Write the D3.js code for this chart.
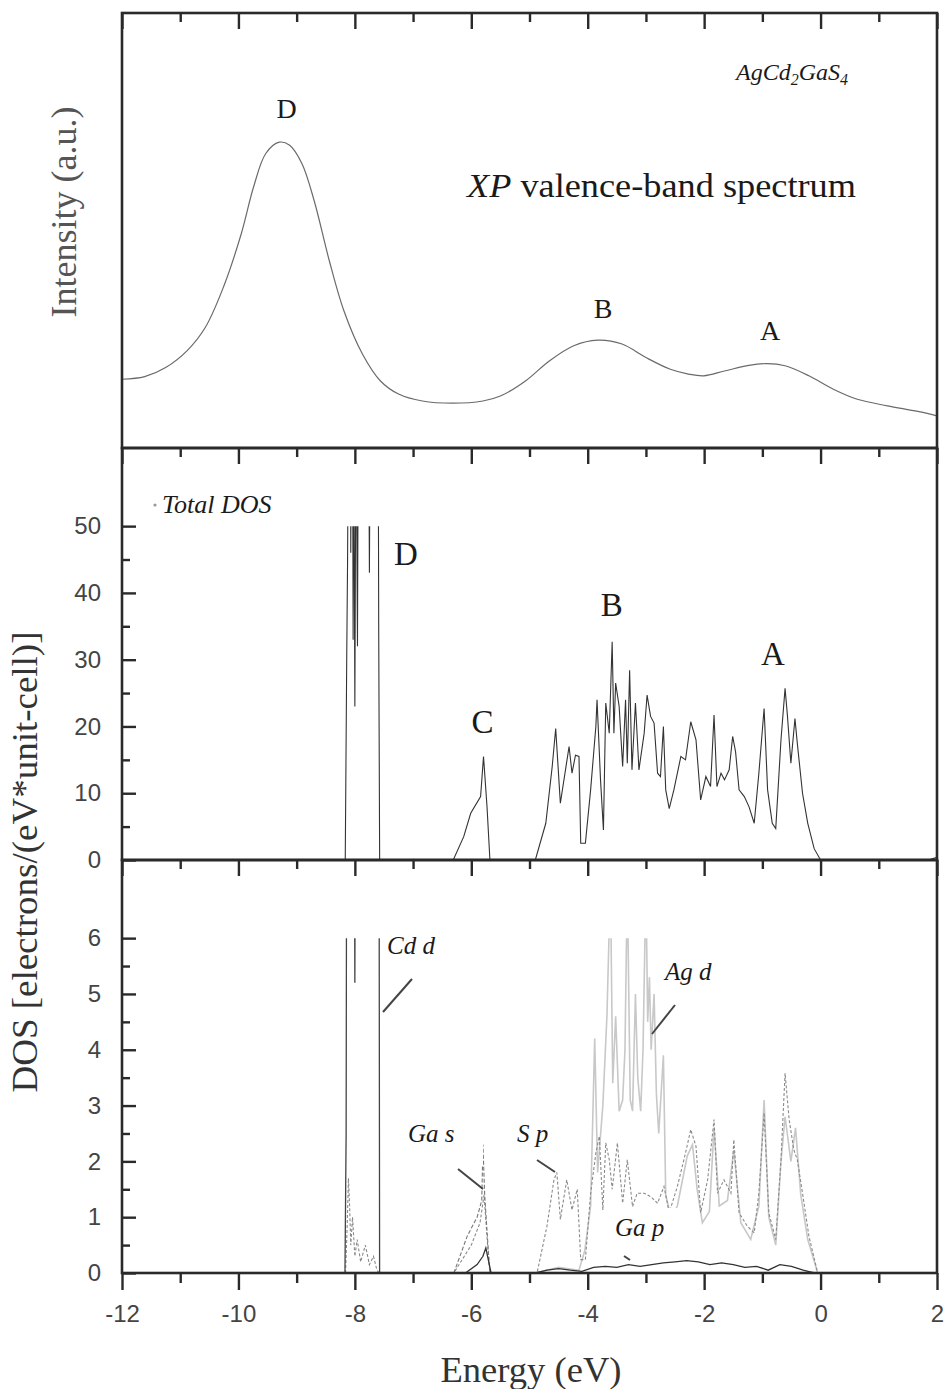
<!DOCTYPE html>
<html>
<head>
<meta charset="utf-8">
<script src="https://cdn.jsdelivr.net/npm/d3@7"></script>
<style>
  body { margin: 0; background: #fff; }
</style>
</head>
<body>
<div id="chart"></div>
<script>
const width = 944;
const height = 1389;
const left = 122, right = 937;

// panel bounds (top, bottom) in px
const panels = {xps: [13, 448], total: [448, 860], partial: [860, 1273]};

const energyTicks = d3.range(-12, 3, 2);
const energyMinor = d3.range(-11, 2, 2);
const totalTicks = [0, 10, 20, 30, 40, 50];
const totalMinor = [5, 15, 25, 35, 45];
const partialTicks = [0, 1, 2, 3, 4, 5, 6];
const partialMinor = [0.5, 1.5, 2.5, 3.5, 4.5, 5.5];

// XP valence-band spectrum (energy eV, intensity a.u.)
const xps = [[-12,15.8],[-11.61,16.4],[-11.25,18.5],[-10.88,22.4],[-10.57,27.7],[-10.26,36.9],
  [-9.95,49.3],[-9.74,60],[-9.53,67.7],[-9.3,70.3],[-9.12,69.6],[-8.91,65.4],[-8.7,56.9],
  [-8.44,43.1],[-8.19,31.6],[-7.87,21.6],[-7.56,15.4],[-7.25,12.4],[-6.84,10.8],[-6.32,10.3],
  [-5.8,10.8],[-5.49,12],[-5.07,15.4],[-4.66,20],[-4.24,23.5],[-3.83,24.8],[-3.41,23.9],
  [-3.0,20.8],[-2.58,18.1],[-2.27,17],[-2.01,16.6],[-1.65,17.7],[-1.23,19],[-0.92,19.4],
  [-0.61,18.9],[-0.2,16.6],[0.22,13.5],[0.63,11.2],[1.15,9.7],[1.67,8.4],[2,7.4]];

// total DOS (values above 50 are cut off by the frame of the original)
const totalDos = [[-8.165,0],[-8.14,30],[-8.125,45],[-8.11,70],[-8.075,70],[-8.07,46],[-8.06,70],
  [-8.04,70],[-8.03,33],[-8.02,70],[-8.0,23],[-7.98,70],[-7.955,32],[-7.94,70],[-7.765,70],
  [-7.75,43],[-7.735,70],[-7.6,70],[-7.59,34],[-7.574,0],
  [-6.31,0],[-6.13,3.5],[-6.01,7],[-5.84,9.5],[-5.79,15.5],[-5.73,8],[-5.68,0],
  [-4.9,0],[-4.72,5.5],[-4.61,14],[-4.55,19.7],[-4.47,8.5],[-4.32,17],[-4.27,13],[-4.21,15.7],
  [-4.15,15.5],[-4.12,2.5],[-4.04,2.5],[-3.95,10.5],[-3.86,20],[-3.84,24],[-3.78,12],[-3.73,4.5],
  [-3.69,23.5],[-3.63,19],[-3.58,32.7],[-3.55,19],[-3.52,26.5],[-3.46,23],[-3.4,14],[-3.35,24],
  [-3.32,14.5],[-3.28,28.4],[-3.24,13.5],[-3.18,23.5],[-3.12,13.5],[-3.03,19],[-2.98,24.7],
  [-2.92,21.5],[-2.86,20.5],[-2.8,13],[-2.75,12.5],[-2.7,20],[-2.66,10.5],[-2.6,7.7],[-2.52,10.5],
  [-2.4,15.5],[-2.32,15],[-2.23,20.7],[-2.14,18],[-2.06,9],[-1.97,12.5],[-1.89,11],[-1.83,21.7],
  [-1.78,11],[-1.71,13],[-1.65,12],[-1.57,13.5],[-1.51,18.5],[-1.46,16.2],[-1.4,10.5],[-1.31,9.5],
  [-1.23,8],[-1.14,5.5],[-1.06,13],[-0.97,22.7],[-0.91,10.5],[-0.83,5.5],[-0.77,4.7],[-0.68,18],
  [-0.61,25.7],[-0.57,21.7],[-0.51,14.5],[-0.44,21.2],[-0.4,17.5],[-0.31,10],[-0.22,5.5],
  [-0.11,1.7],[0,0],[1.85,0],[2,0.4]];

// partial DOS
const cdD = [[-8.17,0],[-8.15,2.5],[-8.14,9],[-8.01,9],[-8.0,5.2],[-7.99,9],[-7.585,9],[-7.575,0]];
const agD = [[-4.9,0],[-4.5,0.1],[-4.15,0.05],[-4.05,0.4],[-3.95,1.2],[-3.88,4.2],[-3.83,1.8],
  [-3.74,3.0],[-3.67,4.6],[-3.61,7],[-3.57,3.4],[-3.52,4.6],[-3.46,2.9],[-3.4,3.1],[-3.36,4.0],
  [-3.32,7],[-3.27,3.1],[-3.23,2.9],[-3.18,5.0],[-3.14,3.5],[-3.09,2.9],[-3.05,4.0],[-3.0,7],
  [-2.97,4.5],[-2.94,5.3],[-2.91,4.0],[-2.86,5.0],[-2.82,3.2],[-2.78,2.5],[-2.7,3.9],[-2.66,1.4],
  [-2.57,1.0],[-2.46,1.2],[-2.29,2.1],[-2.2,2.3],[-2.12,1.5],[-2.03,0.9],[-1.91,1.1],[-1.83,2.6],
  [-1.74,1.2],[-1.6,1.3],[-1.49,2.2],[-1.37,0.9],[-1.2,0.6],[-1.06,1.2],[-0.97,3.1],[-0.89,1.0],
  [-0.77,0.5],[-0.68,2.0],[-0.61,2.8],[-0.51,2.0],[-0.43,2.6],[-0.34,1.4],[-0.22,0.6],[-0.05,0]];
const sP = [[-8.16,0],[-8.13,0.9],[-8.11,1.7],[-8.09,1.2],[-8.07,0.5],[-8.04,1.0],[-8.0,0.3],
  [-7.96,0.6],[-7.9,0.2],[-7.82,0.5],[-7.75,0.15],[-7.68,0.3],[-7.62,0.05],[-7.58,0],
  [-6.3,0],[-6.0,0.5],[-5.85,0.9],[-5.78,1.4],[-5.72,0.5],[-5.68,0],
  [-4.87,0],[-4.7,0.84],[-4.58,1.67],[-4.53,1.8],[-4.47,0.96],[-4.36,1.67],[-4.27,1.13],[-4.18,1.5],
  [-4.12,0.24],[-4.04,0.24],[-3.95,1.43],[-3.86,2.15],[-3.8,2.45],[-3.74,1.13],[-3.69,2.33],
  [-3.63,2.03],[-3.58,1.5],[-3.49,2.33],[-3.4,1.25],[-3.32,2.03],[-3.23,1.19],[-3.15,1.43],
  [-3.03,1.43],[-2.92,1.37],[-2.8,1.25],[-2.69,1.55],[-2.6,1.08],[-2.46,1.55],[-2.32,2.15],
  [-2.23,2.57],[-2.14,2.27],[-2.06,1.08],[-1.94,1.67],[-1.83,2.75],[-1.77,1.43],[-1.66,1.67],
  [-1.54,1.43],[-1.49,2.39],[-1.4,1.08],[-1.26,0.84],[-1.14,0.72],[-1.06,1.43],[-0.97,2.87],
  [-0.89,1.08],[-0.77,0.6],[-0.68,2.03],[-0.61,3.58],[-0.54,2.75],[-0.46,2.21],[-0.4,2.03],
  [-0.31,1.43],[-0.2,0.66],[-0.05,0]];
const gaS = [[-6.3,0],[-6.07,0.66],[-5.9,1.0],[-5.82,1.3],[-5.8,2.3],[-5.77,1.4],[-5.72,0.6],[-5.68,0]];
const gaP = [[-6.1,0],[-5.9,0.15],[-5.8,0.3],[-5.75,0.45],[-5.7,0.2],[-5.66,0],
  [-4.9,0],[-4.7,0.05],[-4.5,0.08],[-4.3,0.05],[-4.1,0.03],[-3.9,0.1],[-3.7,0.12],[-3.5,0.1],
  [-3.3,0.15],[-3.1,0.12],[-2.9,0.15],[-2.7,0.18],[-2.5,0.2],[-2.3,0.22],[-2.1,0.2],[-1.9,0.15],
  [-1.7,0.18],[-1.5,0.15],[-1.3,0.1],[-1.1,0.12],[-0.9,0.05],[-0.7,0.15],[-0.5,0.12],[-0.3,0.05],[-0.1,0]];

const svg = d3.select("#chart")
    .append("svg")
    .attr("width", width)
    .attr("height", height)
    .style("font-family", "'Liberation Serif', 'Times New Roman', serif");

const x = d3.scaleLinear().domain([-12, 2]).range([left, right]);
const yXps = d3.scaleLinear().domain([0, 100]).range([panels.xps[1], panels.xps[0]]);
const yTotal = d3.scaleLinear().domain([0, 61.7]).range([panels.total[1], panels.total[0]]);
const yPart = d3.scaleLinear().domain([0, 7.4]).range([panels.partial[1], panels.partial[0]]);

const defs = svg.append("defs");
defs.append("clipPath").attr("id", "clip-total")
  .append("rect").attr("x", left).attr("width", right - left)
  .attr("y", yTotal(50)).attr("height", yTotal(0) - yTotal(50) + 2);
defs.append("clipPath").attr("id", "clip-part")
  .append("rect").attr("x", left).attr("width", right - left)
  .attr("y", yPart(6)).attr("height", yPart(0) - yPart(6) + 2);

// curves
svg.append("path")
    .attr("d", d3.line().x(d => x(d[0])).y(d => yXps(d[1])).curve(d3.curveCatmullRom)(xps))
    .attr("fill", "none").attr("stroke", "#6a6a6a").attr("stroke-width", 1.2);

svg.append("path")
    .attr("clip-path", "url(#clip-total)")
    .attr("d", d3.line().x(d => x(d[0])).y(d => yTotal(d[1]))(totalDos))
    .attr("fill", "none").attr("stroke", "#333").attr("stroke-width", 1.1);

const partLine = d3.line().x(d => x(d[0])).y(d => yPart(d[1]));
const partial = svg.append("g").attr("clip-path", "url(#clip-part)");
partial.append("path").attr("d", partLine(agD))
    .attr("fill", "none").attr("stroke", "#c8c8c8").attr("stroke-width", 1.6);
partial.append("path").attr("d", partLine(sP))
    .attr("fill", "none").attr("stroke", "#8a8a8a").attr("stroke-width", 1.1).attr("stroke-dasharray", "3,2");
partial.append("path").attr("d", partLine(gaS))
    .attr("fill", "none").attr("stroke", "#777").attr("stroke-width", 1.1).attr("stroke-dasharray", "4,2");
partial.append("path").attr("d", partLine(cdD))
    .attr("fill", "none").attr("stroke", "#444").attr("stroke-width", 1.3);
partial.append("path").attr("d", partLine(gaP))
    .attr("fill", "none").attr("stroke", "#333").attr("stroke-width", 1.3);

// label boxes in the lower panel (white, cover the curves)
const boxes = [[385, 933, 73, 42], [665, 952, 82, 45], [405, 1112, 78, 54], [608, 1208, 74, 48]];
svg.append("g").selectAll("rect").data(boxes).join("rect")
    .attr("x", d => d[0]).attr("y", d => d[1]).attr("width", d => d[2]).attr("height", d => d[3])
    .attr("fill", "#fff");

// frames
Object.values(panels).forEach(p => {
  svg.append("rect")
      .attr("x", left).attr("y", p[0]).attr("width", right - left).attr("height", p[1] - p[0])
      .attr("fill", "none").attr("stroke", "#2a2a2a").attr("stroke-width", 2.6);
});

function tickAxis(axis, y, major, minor, sizeMajor, sizeMinor) {
  const g1 = svg.append("g").attr("transform", `translate(0,${y})`)
      .call(axis(x).tickValues(major).tickSize(sizeMajor).tickFormat(""));
  const g2 = svg.append("g").attr("transform", `translate(0,${y})`)
      .call(axis(x).tickValues(minor).tickSize(sizeMinor).tickFormat(""));
  [g1, g2].forEach(g => {
    g.select(".domain").remove();
    g.selectAll("line").attr("stroke", "#2a2a2a").attr("stroke-width", 2.4);
  });
}
tickAxis(d3.axisTop, panels.xps[0], energyTicks, energyMinor, -16, -9);
tickAxis(d3.axisBottom, panels.xps[1], energyTicks, energyMinor, 16, 9);
tickAxis(d3.axisBottom, panels.total[1], energyTicks, energyMinor, 16, 9);

// bottom energy axis with labels (plain hyphen minus, as in the original)
const xAxisG = svg.append("g").attr("transform", `translate(0,${panels.partial[1]})`)
    .call(d3.axisBottom(x).tickValues(energyTicks).tickSize(17).tickPadding(15).tickFormat(d => String(d)));
const xMinorG = svg.append("g").attr("transform", `translate(0,${panels.partial[1]})`)
    .call(d3.axisBottom(x).tickValues(energyMinor).tickSize(10).tickFormat(""));
[xAxisG, xMinorG].forEach(g => {
  g.select(".domain").remove();
  g.selectAll("line").attr("stroke", "#2a2a2a").attr("stroke-width", 2.4);
});
xAxisG.selectAll("text")
    .attr("font-family", "'Liberation Sans', Arial, sans-serif")
    .attr("font-size", 24).attr("fill", "#444");

function yAxis(scale, major, minor) {
  const g = svg.append("g").attr("transform", `translate(${left},0)`)
      .call(d3.axisLeft(scale).tickValues(major).tickSize(-14).tickPadding(21).tickFormat(d => String(d)));
  const gm = svg.append("g").attr("transform", `translate(${left},0)`)
      .call(d3.axisLeft(scale).tickValues(minor).tickSize(-8).tickFormat(""));
  [g, gm].forEach(a => {
    a.select(".domain").remove();
    a.selectAll("line").attr("stroke", "#2a2a2a").attr("stroke-width", 2.4);
  });
  g.selectAll("text")
      .attr("font-family", "'Liberation Sans', Arial, sans-serif")
      .attr("font-size", 24).attr("fill", "#444");
}
yAxis(yTotal, totalTicks, totalMinor);
yAxis(yPart, partialTicks, partialMinor);

// annotation pointers
const pointers = [[383, 1012, 412, 979], [652, 1034, 675, 1005], [458, 1169, 483, 1189],
  [537, 1160, 555, 1172], [624, 1256, 630, 1260]];
svg.append("g").selectAll("line").data(pointers).join("line")
    .attr("x1", d => d[0]).attr("y1", d => d[1]).attr("x2", d => d[2]).attr("y2", d => d[3])
    .attr("stroke", "#444").attr("stroke-width", 2);

// texts
const txt = (tx, ty, s, size, opts = {}) => svg.append("text")
    .attr("x", tx).attr("y", ty).attr("font-size", size)
    .attr("text-anchor", opts.anchor || "start")
    .attr("font-style", opts.italic ? "italic" : "normal")
    .attr("fill", opts.fill || "#1a1a1a")
    .text(s);

// top panel
const formula = svg.append("text").attr("x", 736).attr("y", 80).attr("font-size", 24)
    .attr("font-style", "italic").attr("fill", "#1a1a1a");
formula.append("tspan").text("AgCd");
formula.append("tspan").attr("font-size", 16).attr("dy", 5).text("2");
formula.append("tspan").attr("dy", -5).text("GaS");
formula.append("tspan").attr("font-size", 16).attr("dy", 5).text("4");

const title = svg.append("text").attr("x", 467).attr("y", 197).attr("font-size", 33)
    .attr("textLength", 389).attr("lengthAdjust", "spacingAndGlyphs").attr("fill", "#1a1a1a");
title.append("tspan").attr("font-style", "italic").text("XP");
title.append("tspan").text(" valence-band spectrum");

txt(286.5, 118, "D", 28, {anchor: "middle"});
txt(603, 318, "B", 28, {anchor: "middle"});
txt(770, 340, "A", 28, {anchor: "middle"});

svg.append("text")
    .attr("transform", "translate(76,212) rotate(-90)")
    .attr("text-anchor", "middle").attr("font-size", 36).attr("fill", "#555")
    .text("Intensity (a.u.)");

// middle panel
svg.append("circle").attr("cx", 155).attr("cy", 505).attr("r", 1.6).attr("fill", "#999");
txt(162, 513, "Total DOS", 26, {italic: true});
txt(406, 565, "D", 33, {anchor: "middle"});
txt(482.5, 733, "C", 33, {anchor: "middle"});
txt(611.7, 616, "B", 33, {anchor: "middle"});
txt(773, 665, "A", 33, {anchor: "middle"});

// bottom panel
txt(387, 954, "Cd d", 25, {italic: true});
txt(665, 980, "Ag d", 25, {italic: true});
txt(408, 1142, "Ga s", 25, {italic: true});
txt(517, 1142, "S p", 25, {italic: true});
txt(615, 1236, "Ga p", 25, {italic: true});

svg.append("text")
    .attr("transform", "translate(37,862) rotate(-90)")
    .attr("text-anchor", "middle").attr("font-size", 36).attr("fill", "#333")
    .attr("textLength", 461).attr("lengthAdjust", "spacingAndGlyphs")
    .text("DOS [electrons/(eV*unit-cell)]");

svg.append("text")
    .attr("x", 531).attr("y", 1382).attr("text-anchor", "middle")
    .attr("font-size", 35).attr("fill", "#333")
    .attr("textLength", 181).attr("lengthAdjust", "spacingAndGlyphs")
    .text("Energy (eV)");
</script>
</body>
</html>
